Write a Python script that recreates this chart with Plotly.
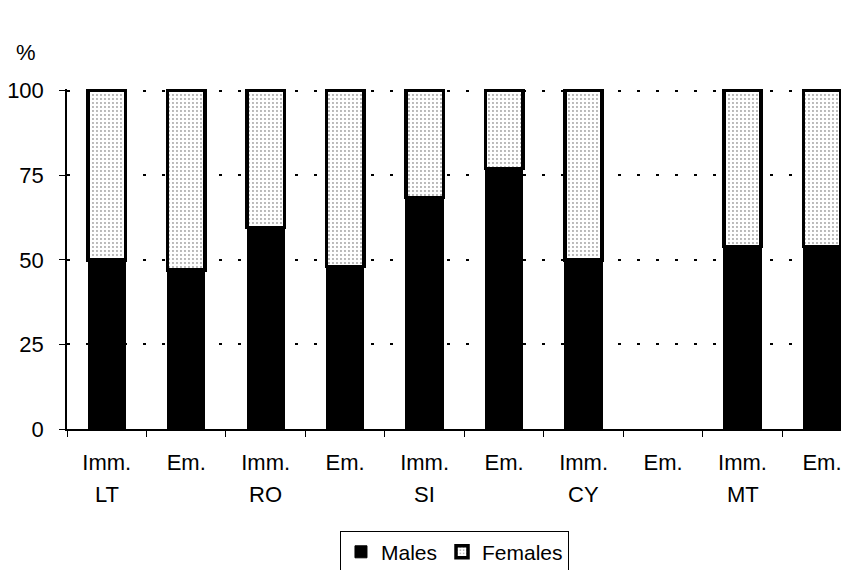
import plotly.graph_objects as go

flows = ["Imm.", "Em.", "Imm.", "Em.", "Imm.", "Em.", "Imm.", "Em.", "Imm.", "Em."]
countries = ["LT", "", "RO", "", "SI", "", "CY", "", "MT", ""]
males = [50, 47, 59.5, 48, 68.5, 77, 50, None, 54, 54]
females = [50, 53, 40.5, 52, 31.5, 23, 50, None, 46, 46]
y_ticks = [0, 25, 50, 75, 100]

categories = list(range(len(flows)))
font = dict(family="Liberation Sans, Arial, sans-serif", size=22, color="black")

fig = go.Figure()
fig.add_trace(go.Bar(
    x=categories, y=males, name="Males", width=0.47,
    marker=dict(color="black", line=dict(color="black", width=1)),
))
fig.add_trace(go.Bar(
    x=categories, y=females, name="Females", width=0.47,
    marker=dict(
        color="white",
        line=dict(color="black", width=3.5),
        pattern=dict(shape=".", fgcolor="#444", bgcolor="white",
                     size=4, solidity=0.18),
    ),
))

# second row of the x labels (country codes)
annotations = [dict(
    text=c, x=i, xref="x", y=-0.192, yref="paper", yanchor="middle",
    showarrow=False, font=font, borderpad=0,
) for i, c in enumerate(countries) if c]
annotations.append(dict(
    text="%", xref="paper", yref="paper", x=-0.068, y=1.108,
    xanchor="left", yanchor="middle", showarrow=False, font=font,
))

# page body has an 8px margin, so the figure is sized/offset to compensate
fig.update_layout(
    barmode="stack",
    width=841, height=562,
    margin=dict(l=59, r=0, t=81, b=141),
    plot_bgcolor="white", paper_bgcolor="white",
    font=font,
    showlegend=True,
    legend=dict(
        orientation="h", x=0.4955, xanchor="center",
        yref="container", y=0.07, yanchor="top",
        bordercolor="black", borderwidth=1,
        font=dict(family=font["family"], size=21, color="black"),
        traceorder="normal", itemwidth=30, tracegroupgap=0,
    ),
    annotations=annotations,
)

fig.update_xaxes(
    range=[-0.5, 9.34], automargin=False,
    tickvals=categories, ticktext=flows,
    showline=True, linecolor="black", linewidth=1.5,
    ticks="", showgrid=False, tickfont=font, ticklabelstandoff=13,
    minor=dict(tickvals=[i - 0.5 for i in categories], ticks="outside",
               ticklen=6, tickcolor="black", showgrid=False),
)
fig.update_yaxes(
    range=[0, 100.5], tickvals=y_ticks, automargin=False,
    showline=True, linecolor="black", linewidth=1.5,
    ticks="outside", ticklen=6, tickcolor="black",
    showgrid=True, gridcolor="black", gridwidth=1.5, griddash="3px,16px",
    zeroline=False, tickfont=font, ticklabelstandoff=11,
)

fig.write_html("out.html")
